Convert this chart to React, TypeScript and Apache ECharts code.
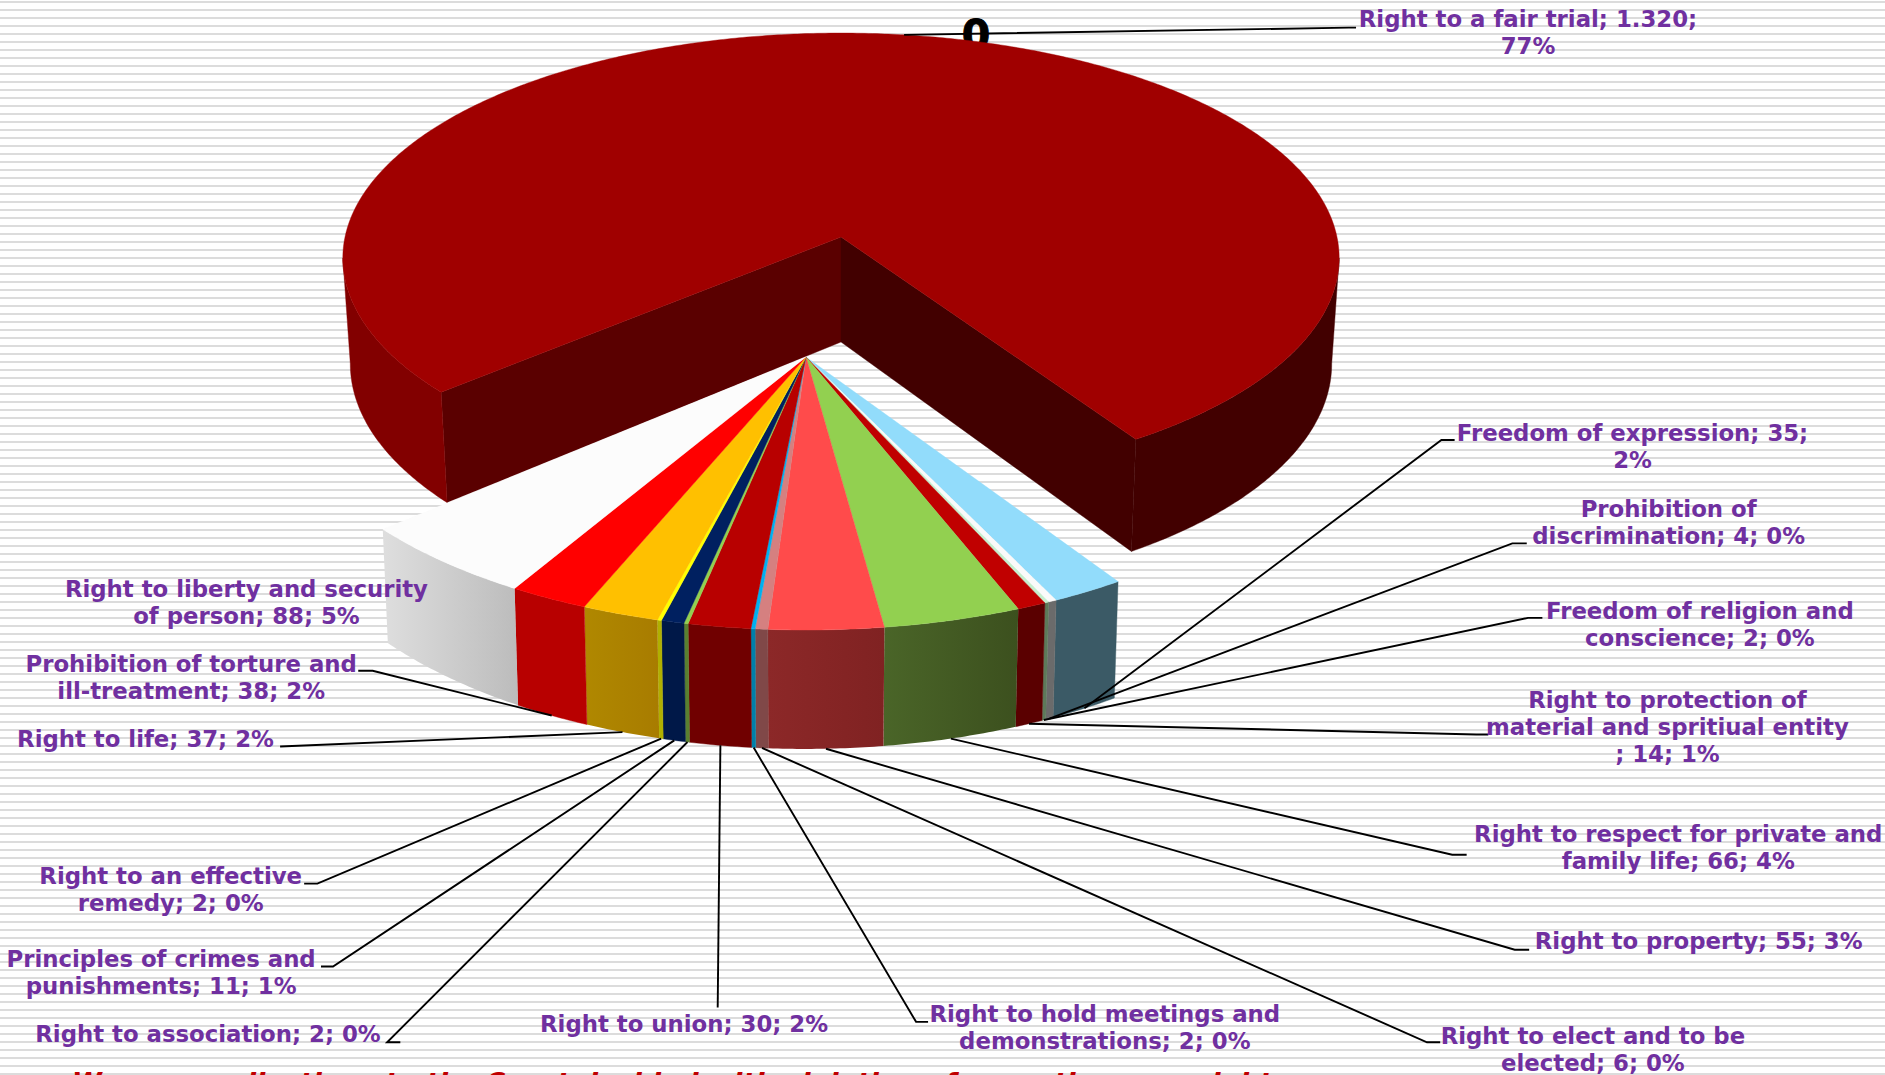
import React, { useEffect, useRef } from "react";
import * as echarts from "echarts";

const categories = [
  "Right to a fair trial", "Freedom of expression", "Prohibition of discrimination",
  "Freedom of religion and conscience", "Right to protection of material and spritiual entity",
  "Right to respect for private and family life", "Right to property", "Right to elect and to be elected",
  "Right to hold meetings and demonstrations", "Right to union", "Right to association",
  "Principles of crimes and punishments", "Right to an effective remedy", "Right to life",
  "Prohibition of torture and ill-treatment", "Right to liberty and security of person",
];
const values = [1320, 35, 4, 2, 14, 66, 55, 6, 2, 30, 2, 11, 2, 37, 38, 88];
const labelTexts = [
  "Right to a fair trial; 1.320;\n77%", "Freedom of expression; 35;\n2%", "Prohibition of\ndiscrimination; 4; 0%",
  "Freedom of religion and\nconscience; 2; 0%", "Right to protection of\nmaterial and spritiual entity\n; 14; 1%",
  "Right to respect for private and\nfamily life; 66; 4%", "Right to property; 55; 3%", "Right to elect and to be\nelected; 6; 0%",
  "Right to hold meetings and\ndemonstrations; 2; 0%", "Right to union; 30; 2%", "Right to association; 2; 0%",
  "Principles of crimes and\npunishments; 11; 1%", "Right to an effective\nremedy; 2; 0%", "Right to life; 37; 2%",
  "Prohibition of torture and\nill-treatment; 38; 2%", "Right to liberty and security\nof person; 88; 5%",
];
const topColors = [
  "#A00000", "#92DCFB", "#FAFAFA", "#C6EFCE", "#C00000", "#92D050", "#FF4B4B", "#D58080",
  "#00B0F0", "#B80000", "#92D050", "#002060", "#FFFF00", "#FFC000", "#FF0000", "#FCFCFC",
];
const wallColors = [
  ["#820000", "#820000"], ["#3B5A66", "#3B5A66"], ["#6B6B6B", "#6B6B6B"], ["#5D7A5A", "#5D7A5A"],
  ["#5A0000", "#5A0000"], ["#3C501E", "#4A6528"], ["#802222", "#8C2828"], ["#804848", "#804848"],
  ["#0080AA", "#0080AA"], ["#700000", "#700000"], ["#5A8030", "#5A8030"], ["#001848", "#001848"],
  ["#B0B000", "#B0B000"], ["#A87C00", "#B08800"], ["#B80000", "#B80000"], ["#BCBCBC", "#DEDEDE"],
];

// label centre and leader stub, in the 1568-wide reading of the picture
const labelCentres = [
  [1271, 27], [1358, 371.5], [1388, 435], [1414, 519.5], [1387, 604.5], [1396, 705], [1413, 782.5], [1325, 873],
  [919, 855], [569, 851.5], [173, 860.5], [134, 809], [142, 740], [121, 614.5], [159, 563.5], [205, 501.5],
];
const leaderStubs: number[][][] = [
  [[1128, 23], [1122, 23]], [[1210, 366], [1199, 366]], [[1270, 452], [1258, 452]], [[1283, 514], [1271, 514]],
  [[1238, 611], [1228, 611]], [[1220, 711], [1208, 711]], [[1272, 790], [1260, 790]], [[1198, 867], [1187, 867]],
  [[772, 850], [762, 850]], [[597, 838]], [[333, 867], [322, 867]], [[267, 804], [277, 804]],
  [[253, 735], [264, 735]], [[233, 621]], [[298, 558], [310, 558]], [],
];

const K = 1885 / 1568;
const GAP_START = 49.2; // where the first slice starts, clockwise from the front

const BIG = { ax: 841, ay: 237, A: 496, B: 223, k: 0.0934, h: 105, Ab: 0.985, Bb: 1.035 };
const SMALL = { ax: 806, ay: 357, A: 525, B: 247.5, k: 0.0934, h: 105, Ab: 0.988, Bb: 1.051 };

const total = values.reduce((a, b) => a + b, 0);
function spanOf(i: number) {
  let start = GAP_START;
  for (let j = 0; j < i; j++) start += (values[j] / total) * 360;
  return [start, start + (values[i] / total) * 360];
}
function project(g: typeof BIG, phi: number, lower: boolean) {
  const a = (phi * Math.PI) / 180;
  const u = -Math.sin(a);
  const v = Math.cos(a);
  const s = 1 / (1 - g.k * v);
  const A = lower ? g.A * g.Ab : g.A;
  const B = lower ? g.B * g.Bb : g.B;
  return [g.ax + s * A * u, g.ay + (lower ? g.h : 0) + s * B * v];
}
function arc(g: typeof BIG, a0: number, a1: number, lower: boolean) {
  const n = Math.max(2, Math.ceil(Math.abs(a1 - a0) / 0.5));
  const pts: number[][] = [];
  for (let i = 0; i <= n; i++) pts.push(project(g, a0 + ((a1 - a0) * i) / n, lower));
  return pts;
}
function poly(points: number[][], fill: any) {
  const solid = typeof fill === "string";
  return { type: "polygon", shape: { points }, style: { fill, stroke: solid ? fill : undefined, lineWidth: solid ? 0.4 : 0 } };
}
function wallFill(c: string[]) {
  if (c[0] === c[1]) return c[0];
  return new echarts.graphic.LinearGradient(0, 0, 1, 0, [{ offset: 0, color: c[1] }, { offset: 1, color: c[0] }]);
}

function renderSlice(_: any, api: any) {
  const i = api.value(0) as number;
  const [a0, a1] = spanOf(i);
  if (i === 0) {
    const g = BIG;
    const apexT = [g.ax, g.ay];
    const apexB = [g.ax, g.ay + g.h];
    // the rim is visible up to the ellipse's widest point on either side
    const widest = (Math.acos(g.k) * 180) / Math.PI;
    return {
      type: "group",
      children: [
        poly([apexT, project(g, a0, false), project(g, a0, true), apexB], "#5A0000"),
        poly([apexT, project(g, a1, false), project(g, a1, true), apexB], "#420000"),
        poly([...arc(g, a0, widest, false), ...arc(g, a0, widest, true).reverse()], "#820000"),
        poly([...arc(g, 360 - widest, a1, false), ...arc(g, 360 - widest, a1, true).reverse()], "#420000"),
        poly([apexT, ...arc(g, a0, a1, false)], topColors[0]),
      ],
    };
  }
  const g = SMALL;
  return {
    type: "group",
    children: [
      poly([...arc(g, a0, a1, false), ...arc(g, a0, a1, true).reverse()], wallFill(wallColors[i])),
      poly([[g.ax, g.ay], ...arc(g, a0, a1, false)], topColors[i]),
    ],
  };
}

function renderLabel(_: any, api: any) {
  const i = api.value(0) as number;
  const [a0, a1] = spanOf(i);
  const mid = (a0 + a1) / 2;
  const target = i === 0 ? project(BIG, mid, false) : project(SMALL, mid, true);
  const stub = leaderStubs[i].map((p) => [p[0] * K, p[1] * K]);
  const children: any[] = [];
  if (stub.length) {
    children.push({
      type: "polyline",
      shape: { points: [...stub, target] },
      style: { stroke: "#000", lineWidth: 1.9, fill: "none" },
    });
  }
  children.push({
    type: "text",
    x: labelCentres[i][0] * K,
    y: labelCentres[i][1] * K,
    style: {
      text: labelTexts[i],
      fill: "#7030A0",
      font: 'bold 22.8px "DejaVu Sans"',
      lineHeight: 27,
      align: "center",
      verticalAlign: "middle",
    },
  });
  return { type: "group", children };
}

export default function App() {
  const ref = useRef<HTMLDivElement>(null);
  useEffect(() => {
    document.body.style.margin = "0";
    document.body.style.overflow = "hidden";
    const chart = echarts.init(ref.current!, null, { renderer: "svg" });
    const seriesData = values.map((v, i) => ({ name: categories[i], value: [i, v] }));
    chart.setOption({
      animation: false,
      backgroundColor: "transparent",
      graphic: [
        {
          type: "text", z: 0, x: 976, y: 35,
          style: { text: "0", fill: "#000", stroke: "#000", lineWidth: 1, font: 'bold 41px "DejaVu Sans"', align: "center", verticalAlign: "middle" },
        },
        {
          type: "text", z: 0, x: 72, y: 1069,
          style: {
            text: "We see applications to the Court decided with violation of more than one right",
            fill: "#C00000", font: 'bold italic 27px "DejaVu Sans"', align: "left", verticalAlign: "top",
          },
        },
      ],
      series: [
        { type: "custom", coordinateSystem: "none", z: 2, clip: false, silent: true, renderItem: renderSlice, data: seriesData, encode: {} },
        { type: "custom", coordinateSystem: "none", z: 3, clip: false, silent: true, renderItem: renderLabel, data: seriesData, encode: {} },
      ],
    });
    return () => chart.dispose();
  }, []);
  return (
    <div
      ref={ref}
      style={{
        width: 1885,
        height: 1075,
        background: "repeating-linear-gradient(to bottom, #fff 0, #fff 1px, #dcdcdc 1px, #dcdcdc 3px, #fff 3px, #fff 8px)",
      }}
    />
  );
}
